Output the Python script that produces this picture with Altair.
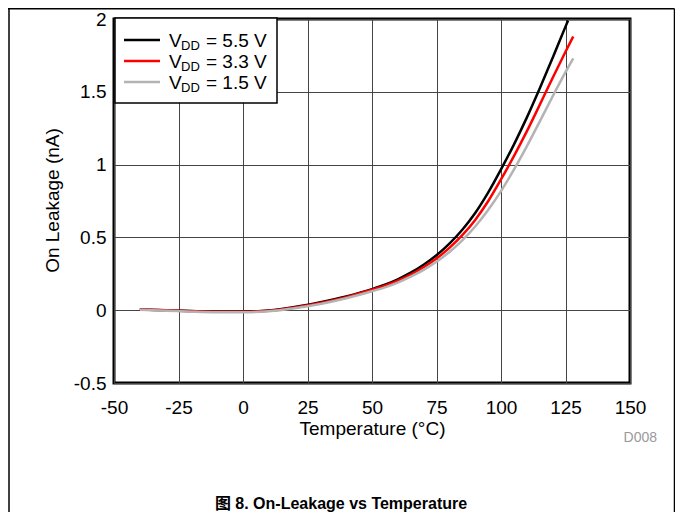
import altair as alt
import pandas as pd

# ---- data ----
t55 = [-40, -30, -20, -10, 0, 10, 20, 30, 40, 50, 55, 60, 65, 70, 75, 80, 85, 90, 95, 100, 105, 110, 115, 120, 125, 126]
v55 = [0.005, 0.0, -0.006, -0.01, -0.01, -0.002, 0.022, 0.055, 0.095, 0.145, 0.175, 0.2125, 0.2575, 0.3125, 0.3775, 0.4575, 0.5525, 0.6675, 0.8075, 0.9675, 1.1375, 1.3225, 1.5225, 1.7325, 1.9475, 1.99]
t33 = [-40, -30, -20, -10, 0, 10, 20, 30, 40, 50, 55, 60, 65, 70, 75, 80, 85, 90, 95, 100, 105, 110, 115, 120, 125, 128]
v33 = [0.005, 0.0, -0.007, -0.011, -0.011, -0.004, 0.019, 0.05, 0.09, 0.14, 0.168, 0.203, 0.245, 0.295, 0.355, 0.428, 0.515, 0.62, 0.748, 0.898, 1.058, 1.228, 1.41, 1.595, 1.775, 1.88]
t15 = [-40, -30, -20, -10, 0, 10, 20, 30, 40, 50, 55, 60, 65, 70, 75, 80, 85, 90, 95, 100, 105, 110, 115, 120, 125, 128]
v15 = [0.003, -0.003, -0.01, -0.014, -0.014, -0.007, 0.014, 0.043, 0.082, 0.13, 0.157, 0.19, 0.23, 0.277, 0.333, 0.40, 0.48, 0.575, 0.688, 0.818, 0.965, 1.125, 1.295, 1.468, 1.635, 1.73]

series_names = ["5.5", "3.3", "1.5"]
series_colors = ["#000000", "#ff0000", "#b3b3b3"]
x_ticks = [-50, -25, 0, 25, 50, 75, 100, 125, 150]
y_ticks = [-0.5, 0, 0.5, 1, 1.5, 2]

rows = []
for name, xs, ys in [("5.5", t55, v55), ("3.3", t33, v33), ("1.5", t15, v15)]:
    for i, (t, v) in enumerate(zip(xs, ys)):
        rows.append({"series": name, "temp": t, "leak": v, "order": i})
df = pd.DataFrame(rows)

FONT = "Liberation Sans, Arial, Noto Sans CJK SC"
FS = 19
one = pd.DataFrame({"a": [0]})

lines = alt.Chart(df).mark_line(strokeWidth=2.5, interpolate="monotone", clip=True).encode(
    x=alt.X("temp:Q", scale=alt.Scale(domain=[-50, 150], nice=False),
            axis=alt.Axis(values=x_ticks, title="Temperature (°C)", format="d",
                          labelExpr="replace(datum.label, '\u2212', '-')",
                          titleY=51, titleBaseline="alphabetic")),
    y=alt.Y("leak:Q", scale=alt.Scale(domain=[-0.5, 2], nice=False),
            axis=alt.Axis(values=y_ticks, title="On Leakage (nA)", format="~g",
                          labelExpr="replace(datum.label, '\u2212', '-')",
                          titleX=-56, titleY=181, titleBaseline="alphabetic", titleAlign="center")),
    color=alt.Color("series:N", scale=alt.Scale(domain=series_names, range=series_colors), legend=None),
    detail="series:N",
    order="order:Q",
)

# black first, gray on top
line_layers = [lines.transform_filter(alt.datum.series == name) for name in ["5.5", "3.3", "1.5"]]

base = alt.Chart(one)

legend_box = base.mark_rect(fill="white", stroke="black", strokeWidth=1.5).encode(
    x=alt.value(1), x2=alt.value(163), y=alt.value(-1), y2=alt.value(84))

legend_items = []
for k, (name, col) in enumerate(zip(series_names, series_colors)):
    yline = 21 + 21 * k
    ybase = 28 + 21 * k
    legend_items.append(base.mark_rule(color=col, strokeWidth=2.5).encode(
        x=alt.value(10), x2=alt.value(46), y=alt.value(yline)))
    legend_items.append(base.mark_text(text="V", font=FONT, fontSize=FS, align="left",
                                       baseline="alphabetic", color="black").encode(
        x=alt.value(55), y=alt.value(ybase)))
    legend_items.append(base.mark_text(text="DD", font=FONT, fontSize=13, align="left",
                                       baseline="alphabetic", color="black").encode(
        x=alt.value(67), y=alt.value(ybase + 3)))
    legend_items.append(base.mark_text(text=f"= {name} V", font=FONT, fontSize=FS, align="left",
                                       baseline="alphabetic", color="black").encode(
        x=alt.value(92), y=alt.value(ybase)))

frame_top = base.mark_rule(color="black", strokeWidth=1.5).encode(
    x=alt.value(-106), x2=alt.value(560.5), y=alt.value(-10.3))
frame_left = base.mark_rule(color="black", strokeWidth=1.5).encode(
    x=alt.value(-105), y=alt.value(-10.3), y2=alt.value(493))
frame_right = base.mark_rule(color="black", strokeWidth=1.5).encode(
    x=alt.value(560.5), y=alt.value(-10.3), y2=alt.value(493))

d008 = base.mark_text(text="D008", font=FONT, fontSize=14, align="right",
                      baseline="alphabetic", color="#999999").encode(
    x=alt.value(543), y=alt.value(423))

caption = base.mark_text(text="图 8. On-Leakage vs Temperature", font=FONT, fontSize=16,
                         fontWeight="bold", align="center", baseline="alphabetic",
                         color="black").encode(
    x=alt.value(227), y=alt.value(490))

chart = alt.layer(
    *line_layers, legend_box, *legend_items, frame_top, frame_left, frame_right, d008, caption
).properties(
    width=516, height=364,
    autosize=alt.AutoSizeParams(type="none"),
    padding={"left": 106, "top": 11, "right": 45, "bottom": 129},
).configure_view(
    stroke="black", strokeWidth=3
).configure_axis(
    grid=True, gridColor="#444444", gridWidth=1, gridOpacity=1,
    domain=False, ticks=False, tickSize=0, labelFlush=False,
    labelFont=FONT, labelFontSize=FS, labelColor="black",
    titleFont=FONT, titleFontSize=FS, titleFontWeight="normal", titleColor="black",
).configure_axisX(
    labelPadding=15,
).configure_axisY(
    labelPadding=8,
)

chart.save("out.html", embed_options={"renderer": "svg", "actions": False})
